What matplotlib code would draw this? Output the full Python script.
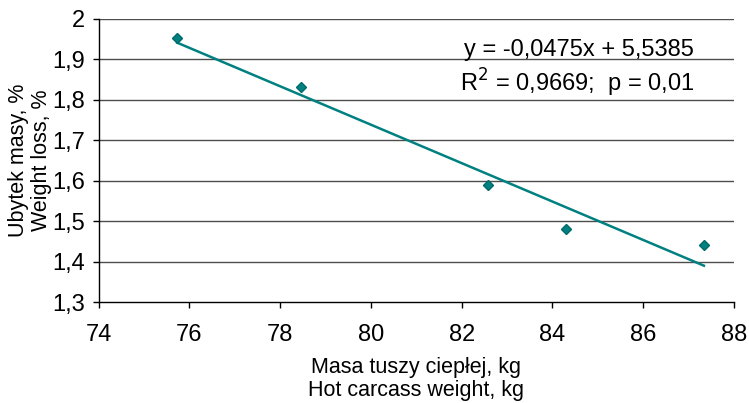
import numpy as np
import matplotlib.pyplot as plt
from matplotlib.ticker import FuncFormatter

plt.rcParams['font.family'] = ['Liberation Sans', 'DejaVu Sans']

# data
masa = [75.73, 78.45, 82.58, 84.29, 87.34]
ubytek = [1.953, 1.831, 1.589, 1.481, 1.441]
a = -0.0475
b = 5.5385
xticks = [74, 76, 78, 80, 82, 84, 86, 88]
yticks = [1.3, 1.4, 1.5, 1.6, 1.7, 1.8, 1.9, 2.0]

fig = plt.figure(figsize=(7.49, 4.03), dpi=100)
ax = fig.add_axes([0.1318, 0.2506, 0.848, 0.7023])

for yv in yticks[1:]:
    ax.axhline(yv, color='#4d4d4d', lw=1.0, zorder=1)

# trend line across the data range
xf = np.array([min(masa), max(masa)])
ax.plot(xf, a * xf + b, color='#008080', lw=1.8, zorder=2)
ax.plot(masa, ubytek, 'D', ms=5, color='#008080', mec='#006a6a', zorder=3)

ax.set_xlim(74, 88)
ax.set_ylim(1.3, 2.0)
ax.set_xticks(xticks)
ax.set_yticks(yticks)
ax.yaxis.set_major_formatter(FuncFormatter(lambda v, p: ('%.1f' % v).replace('.', ',') if v < 1.99 else '2'))
ax.tick_params(labelsize=17, length=4, width=1, colors='black', direction='out')
ax.tick_params(axis='x', pad=12)
ax.tick_params(axis='y', pad=6)

for s in ['top', 'right']:
    ax.spines[s].set_visible(False)
for s in ['left', 'bottom']:
    ax.spines[s].set_linewidth(1.0)

ax.text(0.937, 0.89, 'y = -0,0475x + 5,5385', transform=ax.transAxes,
        ha='right', va='center', fontsize=17)
ax.text(0.937, 0.774, 'R$^2$ = 0,9669;  p = 0,01', transform=ax.transAxes,
        ha='right', va='center', fontsize=17)

ax.set_xlabel('Masa tuszy ciepłej, kg\nHot carcass weight, kg', fontsize=15.5, labelpad=8,
              linespacing=1.1)
ax.set_ylabel('Ubytek masy, %\nWeight loss, %', fontsize=15.5, labelpad=0, linespacing=1.1)

fig.savefig('out.png', dpi=100)
